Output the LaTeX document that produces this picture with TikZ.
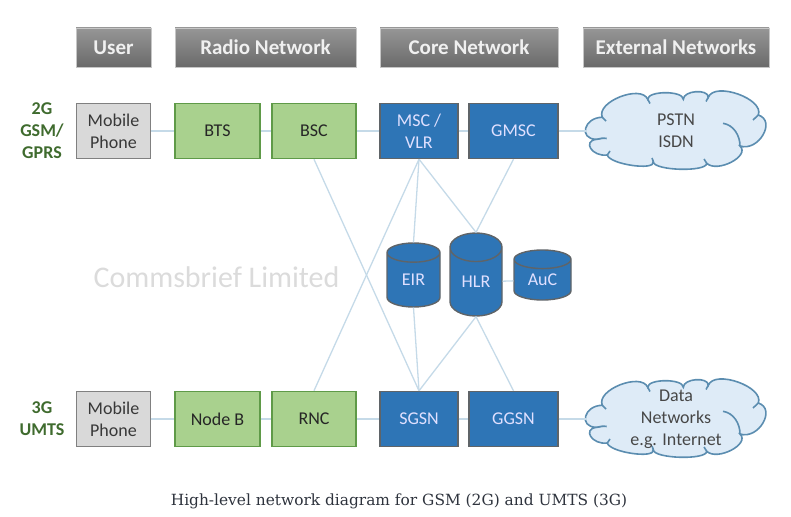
\documentclass[tikz,border=0pt]{standalone}
\usepackage{fontspec}
\setmainfont{Carlito}
\newfontfamily\capfont{DejaVu Serif}
\usepackage{xcolor}
\usetikzlibrary{positioning,shapes.geometric}
\definecolor{headtop}{HTML}{969696}
\definecolor{headbot}{HTML}{6A6A6A}
\definecolor{greenfill}{HTML}{A9D18E}
\definecolor{greenedge}{HTML}{5F9A48}
\definecolor{bluefill}{HTML}{2E75B6}
\definecolor{grayedge}{HTML}{5F6468}
\definecolor{linkcol}{HTML}{C5DAE8}
\definecolor{cloudfill}{HTML}{DEEBF7}
\definecolor{cloudedge}{HTML}{5B8DB0}
\definecolor{labgreen}{HTML}{3F6B2E}
\definecolor{captext}{HTML}{2E333D}
\tikzset{
  head/.style={rectangle,draw=gray!45,line width=.8pt,top color=headtop,bottom color=headbot,text=white!94!black,font=\fontsize{21}{23}\selectfont\bfseries,minimum height=39pt,inner sep=0pt},
  phone/.style={rectangle,draw=gray,fill=gray!30,line width=1.8pt,minimum width=74pt,minimum height=55pt,inner sep=0pt,align=center,text=black!78,font=\fontsize{18}{22}\selectfont},
  radiov/.style={rectangle,draw=greenedge,fill=greenfill,line width=1.6pt,minimum height=55pt,inner sep=0pt,align=center,text=black!85,font=\fontsize{18}{22}\selectfont},
  corev/.style={rectangle,draw=grayedge,fill=bluefill,line width=1.4pt,minimum height=55pt,inner sep=0pt,align=center,text=white!88!blue,font=\fontsize{18}{22}\selectfont},
  dbv/.style={cylinder,shape border rotate=90,anchor=shape center,draw=grayedge,fill=bluefill,line width=1.4pt,inner sep=0pt,text=white!88!blue,font=\fontsize{18}{20}\selectfont},
  cloudbox/.style={rectangle,minimum width=177pt,minimum height=78pt,inner sep=0pt,align=center,text=black!72,font=\fontsize{18}{22}\selectfont},
  cloudline/.style={draw=cloudedge,line width=1.6pt},
  rowlab/.style={align=center,text=labgreen,font=\fontsize{18}{22}\selectfont\bfseries},
  link/.style={line width=1.3pt,linkcol},
  wmark/.style={text=gray!28,font=\fontsize{30}{32}\selectfont},
  caption/.style={text=captext,font=\capfont\fontsize{15.4}{18}\selectfont},
  netcloud/.pic={
    \path[cloudline,fill=cloudfill] (-73.7,-13.7)
      .. controls (-80.4,-29) and (-35,-47) .. (-28.3,-31.7)
      .. controls (-28.3,-40.5) and (7.3,-40.5) .. (7.3,-31.7)
      .. controls (7.3,-40.5) and (32.3,-42.5) .. (32.3,-33.7)
      .. controls (38.6,-49.8) and (88.6,-32.1) .. (82.3,-16)
      .. controls (100.7,-10) and (82.4,21) .. (64,15)
      .. controls (74.6,25) and (41.3,42.3) .. (30.7,32.3)
      .. controls (30.7,41.3) and (-22.7,39.7) .. (-22.7,30.7)
      .. controls (-20.4,40.1) and (-66.4,33.4) .. (-68.7,24)
      .. controls (-84,26) and (-94,10) .. (-79.3,8.3)
      .. controls (-98,8.3) and (-92,-13.7) .. (-73.7,-13.7) -- cycle;
    \path[cloudline] (47,-7.7) .. controls (58,-6) and (64,5) .. (64,15);
    \path[cloudline] (-79.3,8.3) .. controls (-76,7) and (-72,7) .. (-69.3,7.5);
    \path[cloudline] (-73.7,-13.7) -- (-70,-10);
    \path[cloudline] (-28.3,-31.7) -- (-26,-27.5);
    \path[cloudline] (32.3,-33.7) -- (30,-29.5);
    \path[cloudline] (82.3,-16) -- (77,-11);
    \path[cloudline] (-22.7,30.7) -- (-24,27);
    \path[cloudline] (30.7,32.3) -- (28,28);
    \path[cloudline] (-68.7,24) -- (-66,20);
  }
}
\begin{document}
\begin{tikzpicture}[x=1pt,y=-1pt]
  \useasboundingbox (0,0) rectangle (791,516);
  % column heads
  \node[head,minimum width=75pt] (huser) at (113.5,47.5) {User};
  \node[head,minimum width=181pt] (hradio) at (265.5,47.5) {Radio Network};
  \node[head,minimum width=178pt] (hcore) at (469,47.5) {Core Network};
  \node[head,minimum width=186pt] (hext) at (676,47.5) {External Networks};
  \node[rowlab] (r2g) at (42,131) {2G\\GSM/\\GPRS};
  \node[rowlab] (r3g) at (42,419) {3G\\UMTS};
  \node[wmark] (wm) at (216.5,277) {Commsbrief Limited};
  % top row
  \pic at (676,131) {netcloud};
  \node[phone] (ph) at (113.5,131) {Mobile\\Phone};
  \node[radiov,minimum width=85pt] (bts) at (217.5,131) {BTS};
  \node[radiov,minimum width=84pt] (bsc) at (314,131) {BSC};
  \node[corev,minimum width=78pt] (msc) at (419,131) {MSC /\\VLR};
  \node[corev,minimum width=89pt] (gmsc) at (513.5,131) {GMSC};
  \node[cloudbox] (pstn) at (676,131) {PSTN\\ISDN};
  % bottom row
  \pic at (676,419) {netcloud};
  \node[phone] (ph3) at (113.5,419) {Mobile\\Phone};
  \node[radiov,minimum width=85pt] (nodeb) at (217.5,419) {Node B};
  \node[radiov,minimum width=84pt] (rnc) at (314,419) {RNC};
  \node[corev,minimum width=78pt] (sgsn) at (419,419) {SGSN};
  \node[corev,minimum width=89pt] (ggsn) at (513.5,419) {GGSN};
  \node[cloudbox] (data) at (676,419) {Data\\Networks\\e.g. Internet};
  % databases
  \node[dbv,minimum width=53pt,minimum height=64pt,aspect=.83] (eir) at (413.5,275) {EIR};
  \node[dbv,minimum width=52pt,minimum height=83pt,aspect=1] (hlr) at (476,274.5) {HLR};
  \node[dbv,minimum width=57pt,minimum height=50pt,aspect=.63] (auc) at (542.5,275) {AuC};
  % links
  \draw[link] (ph)--(bts);
  \draw[link] (bts)--(bsc);
  \draw[link] (bsc)--(msc);
  \draw[link] (msc)--(gmsc);
  \draw[link] (gmsc)--(pstn);
  \draw[link] (ph3)--(nodeb);
  \draw[link] (nodeb)--(rnc);
  \draw[link] (rnc)--(sgsn);
  \draw[link] (sgsn)--(ggsn);
  \draw[link] (ggsn)--(data);
  \draw[link] (bsc.south)--(sgsn.north);
  \draw[link] (rnc.north)--(msc.south);
  \draw[link] (msc.south)--(eir.north);
  \draw[link] (eir.south)--(sgsn.north);
  \draw[link] (msc.south)--(hlr.north);
  \draw[link] (gmsc.south)--(hlr.north);
  \draw[link] (hlr.south)--(sgsn.north);
  \draw[link] (hlr.south)--(ggsn.north);
  \draw[link] (hlr)--(auc);
  \node[caption] (cap) at (399,501) {High-level network diagram for GSM (2G) and UMTS (3G)};
\end{tikzpicture}
\end{document}
